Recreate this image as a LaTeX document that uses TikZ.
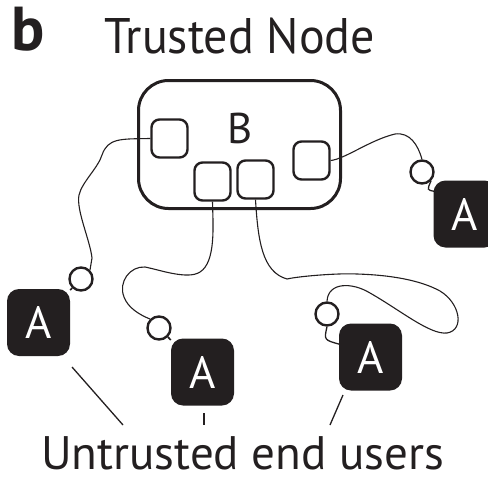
\documentclass[tikz,border=0pt]{standalone}
\usepackage{fontspec}
\setmainfont{PT Sans}
\usetikzlibrary{calc}
\definecolor{ink}{RGB}{35,31,32}
\begin{document}
\begin{tikzpicture}[x=1pt,y=-1pt,
  inner/.style={draw=ink, line width=2.4pt, rounded corners=8pt, minimum width=36pt, minimum height=38pt, inner sep=0pt},
  userbox/.style={fill=ink, rounded corners=12pt, minimum width=63pt, minimum height=67pt, inner sep=0pt, text=white, font=\fontsize{45}{45}\selectfont},
  port/.style={circle, draw=ink, line width=2.4pt, minimum size=23pt, inner sep=0pt},
  wire/.style={draw=ink, line width=1.1pt},
  tick/.style={draw=ink, line width=1.3pt},
  big/.style={draw=ink, line width=3pt, rounded corners=30pt, minimum width=202pt, minimum height=128pt, inner sep=0pt}
]
\useasboundingbox (0,0) rectangle (488,477);
% titles
\node[anchor=base west, inner sep=0pt, font=\fontsize{62}{62}\selectfont\bfseries, text=ink] (lb) at (11,50) {b};
\node[anchor=base west, inner sep=0pt, font=\fontsize{50}{50}\selectfont, text=ink] (tn) at (104,53) {\scalebox{0.96}[1]{Trusted Node}};
% trusted node
\node[big] (B) at (239.5,144.5) {};
\node[font=\fontsize{43}{43}\selectfont, text=ink, inner sep=0pt] (Bl) at (240,128) {B};
\node[inner] (i1) at (169.5,138.5) {};
\node[inner] (i2) at (212.5,181.5) {};
\node[inner] (i3) at (255.5,179.5) {};
\node[inner] (i4) at (311.5,160.5) {};
% users
\node[userbox] (u1) at (38.5,322.5) {A};
\node[userbox] (u2) at (202.5,372) {A};
\node[userbox] (u3) at (370.5,357) {A};
\begin{scope}
\clip (400,150) rectangle (488,260);
\node[userbox] (u4) at (465,214) {A};
\end{scope}
% ports
\node[port] (c1) at (81,279) {};
\node[port] (c2) at (159,328) {};
\node[port] (c3) at (327,314) {};
\node[port] (c4) at (422,172) {};
% port links
\draw[wire, line width=1.6pt] (c1) -- (u1);
\draw[wire, line width=1.6pt] (c2) -- (u2);
\draw[wire, line width=1.3pt] (c3.south) .. controls (324,340) .. ($(u3.north west)+(1,21)$);
\draw[wire, line width=1.3pt] (c4.south east) .. controls (427,190) .. ($(u4.north west)+(1,11)$);
% wires
\draw[wire] (i1.west) .. controls (120,139) and (108,138) .. (102,155)
  .. controls (98,168) and (82,182) .. (79,195)
  .. controls (76,210) and (90,240) .. (92,258) -- (c1.north east);
\draw[wire] (i2.south) .. controls (213,225) and (216,262) .. (200,272)
  .. controls (188,280) and (160,270) .. (145,267)
  .. controls (130,266) and (118,282) .. (124,297)
  .. controls (128,308) and (140,315) .. (c2.north west);
\draw[wire] (i3.south) .. controls (258,240) and (262,272) .. (287,279)
  .. controls (300,276) and (340,273) .. (357,274)
  .. controls (390,275) and (420,280) .. (440,291)
  .. controls (460,303) and (465,330) .. (447,333)
  .. controls (430,335) and (400,310) .. (370,293)
  .. controls (352,282) and (328,282) .. (c3.north);
\draw[wire] (i4.east) .. controls (345,159) and (370,140) .. (395,134)
  .. controls (410,132) and (418,145) .. (c4.north);
% label
\node[anchor=base west, inner sep=0pt, font=\fontsize{47}{47}\selectfont, text=ink] (ut) at (41,469) {Untrusted end users};
\coordinate (l1a) at (72,367);
\coordinate (l1b) at (123,425);
\coordinate (l2a) at (204,413);
\coordinate (l2b) at (204,425);
\coordinate (l3a) at (343,395);
\coordinate (l3b) at (330,425);
\draw[tick] (l1a) -- (l1b);
\draw[tick] (l2a) -- (l2b);
\draw[tick] (l3a) -- (l3b);
\end{tikzpicture}
\end{document}
